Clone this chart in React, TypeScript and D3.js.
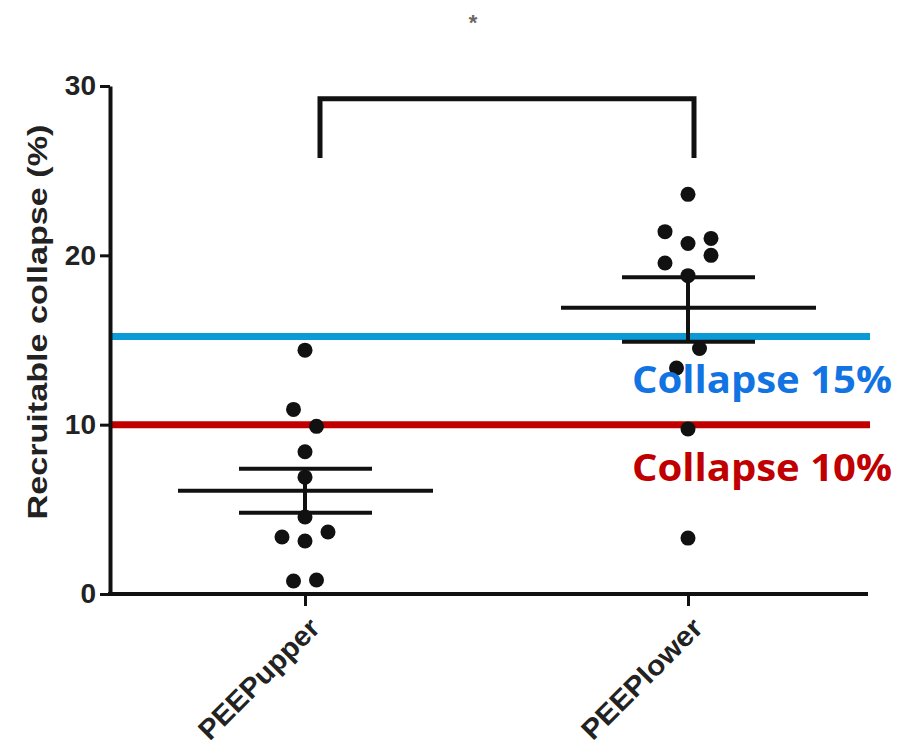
import React, { useRef, useEffect } from 'react';
import * as d3 from 'd3';

// groups on the x axis
const categories = ['PEEPupper', 'PEEPlower'];

// individual values, with a swarm slot (-2..2) for the side-by-side dots
const upperValues = [14.4, 10.9, 9.9, 8.4, 6.9, 4.55, 3.37, 3.13, 3.66, 0.77, 0.83];
const upperSlots = [0, -1, 1, 0, 0, 0, -2, 0, 2, -1, 1];
const lowerValues = [23.6, 21.4, 20.7, 21.0, 20.0, 19.55, 18.8, 14.5, 13.35, 9.75, 3.3];
const lowerSlots = [0, -2, 0, 2, 2, -2, 0, 1, -1, 0, 0];

// mean +/- SEM per group
const means = [6.1, 16.9];
const semHigh = [7.4, 18.7];
const semLow = [4.8, 14.9];

const yTicks = [0, 10, 20, 30];

// threshold lines
const thresholds = [
  { value: 15.2, label: 'Collapse 15%', line: '#0a9ad6', text: '#1273e2' },
  { value: 10, label: 'Collapse 10%', line: '#c00000', text: '#c00000' },
];

// significance bracket
const bracketTop = 29.25;
const bracketLeg = 25.75;

const App = () => {
  const svgRef = useRef<SVGSVGElement>(null);

  useEffect(() => {
    const width = 899;
    const height = 749;
    const svg = d3.select(svgRef.current);
    svg.selectAll('*').remove();
    svg.attr('width', width).attr('height', height);

    const margin = { top: 86, right: 31, bottom: 155, left: 110 };
    const innerWidth = width - margin.left - margin.right;
    const innerHeight = height - margin.top - margin.bottom;

    const yScale = d3.scaleLinear().domain([0, 30]).range([innerHeight, 0]);
    const xScale = d3.scalePoint<string>().domain(categories).range([195, 578]);
    const slotWidth = 11.5;

    const g = svg.append('g').attr('transform', `translate(${margin.left}, ${margin.top})`);
    const axisFont = '"Liberation Sans", Arial, sans-serif';

    // threshold lines (behind points)
    thresholds.forEach(t => {
      g.append('line')
        .attr('x1', 0)
        .attr('x2', innerWidth + 2)
        .attr('y1', yScale(t.value))
        .attr('y2', yScale(t.value))
        .attr('stroke', t.line)
        .attr('stroke-width', 7);
    });

    // y axis
    const yAxis = d3.axisLeft(yScale).tickValues(yTicks).tickSize(10).tickSizeOuter(0).tickPadding(4);
    const yg = g.append('g').call(yAxis);
    yg.select('.domain').attr('stroke', '#111').attr('stroke-width', 4);
    yg.selectAll('.tick line').attr('stroke', '#111').attr('stroke-width', 3);
    yg.selectAll('.tick text')
      .attr('font-family', axisFont)
      .attr('font-weight', 'bold')
      .attr('font-size', 28)
      .attr('fill', '#222');

    // x axis line spans the whole plot
    g.append('line')
      .attr('x1', -2)
      .attr('x2', innerWidth)
      .attr('y1', innerHeight)
      .attr('y2', innerHeight)
      .attr('stroke', '#111')
      .attr('stroke-width', 4);

    const xAxis = d3.axisBottom(xScale).tickSize(12).tickSizeOuter(0);
    const xg = g.append('g').attr('transform', `translate(0, ${innerHeight})`).call(xAxis);
    xg.select('.domain').remove();
    xg.selectAll('.tick line').attr('stroke', '#111').attr('stroke-width', 3);
    xg.selectAll('.tick text')
      .attr('font-family', axisFont)
      .attr('font-weight', 'bold')
      .attr('font-size', 28)
      .attr('fill', '#222')
      .attr('text-anchor', 'end')
      .attr('textLength', 158)
      .attr('lengthAdjust', 'spacingAndGlyphs')
      .attr('transform', 'translate(2, 22) rotate(-45)')
      .attr('y', 0)
      .attr('dy', '0.7em');

    // y axis title
    svg.append('text')
      .attr('transform', `translate(47, ${margin.top + 236}) rotate(-90)`)
      .attr('text-anchor', 'middle')
      .attr('font-family', axisFont)
      .attr('font-weight', 'bold')
      .attr('font-size', 27)
      .attr('fill', '#222')
      .attr('textLength', 395)
      .attr('lengthAdjust', 'spacingAndGlyphs')
      .text('Recruitable collapse (%)');

    // points
    const groups = [
      { values: upperValues, slots: upperSlots },
      { values: lowerValues, slots: lowerSlots },
    ];
    groups.forEach((grp, i) => {
      const cx = xScale(categories[i]) as number;
      g.selectAll(`.dot-${i}`)
        .data(grp.values)
        .join('circle')
        .attr('class', `dot-${i}`)
        .attr('cx', (d, j) => cx + grp.slots[j] * slotWidth)
        .attr('cy', d => yScale(d))
        .attr('r', 7.5)
        .attr('fill', '#111');
    });

    // mean and SEM bars
    categories.forEach((c, i) => {
      const cx = xScale(c) as number;
      const eb = g.append('g').attr('stroke', '#111').attr('stroke-width', 4);
      eb.append('line')
        .attr('x1', cx - 127).attr('x2', cx + 128)
        .attr('y1', yScale(means[i])).attr('y2', yScale(means[i]));
      eb.append('line')
        .attr('x1', cx).attr('x2', cx)
        .attr('y1', yScale(semHigh[i])).attr('y2', yScale(semLow[i]));
      [semHigh[i], semLow[i]].forEach(v => {
        eb.append('line')
          .attr('x1', cx - 66).attr('x2', cx + 67)
          .attr('y1', yScale(v)).attr('y2', yScale(v));
      });
    });

    // threshold labels
    thresholds.forEach(t => {
      g.append('text')
        .attr('x', innerWidth + 24)
        .attr('y', yScale(t.value) + 56)
        .attr('text-anchor', 'end')
        .attr('font-family', '"Open Sans", "Noto Sans", sans-serif')
        .attr('font-weight', 'bold')
        .attr('font-size', 38)
        .attr('fill', t.text)
        .attr('textLength', 260)
        .attr('lengthAdjust', 'spacingAndGlyphs')
        .text(t.label);
    });

    // significance bracket
    const bx1 = (xScale(categories[0]) as number) + 15;
    const bx2 = (xScale(categories[1]) as number) + 6;
    g.append('path')
      .attr('d', `M${bx1},${yScale(bracketLeg)} V${yScale(bracketTop)} H${bx2} V${yScale(bracketLeg)}`)
      .attr('fill', 'none')
      .attr('stroke', '#111')
      .attr('stroke-width', 5);

    svg.append('text')
      .attr('x', 473)
      .attr('y', 30)
      .attr('text-anchor', 'middle')
      .attr('font-family', axisFont)
      .attr('font-weight', 'bold')
      .attr('font-size', 22)
      .attr('fill', '#6b6660')
      .text('*');
  }, []);

  return (
    <div style={{ position: 'absolute', left: 0, top: 0, background: '#fff' }}>
      <svg ref={svgRef} style={{ display: 'block' }}></svg>
    </div>
  );
};

export default App;
